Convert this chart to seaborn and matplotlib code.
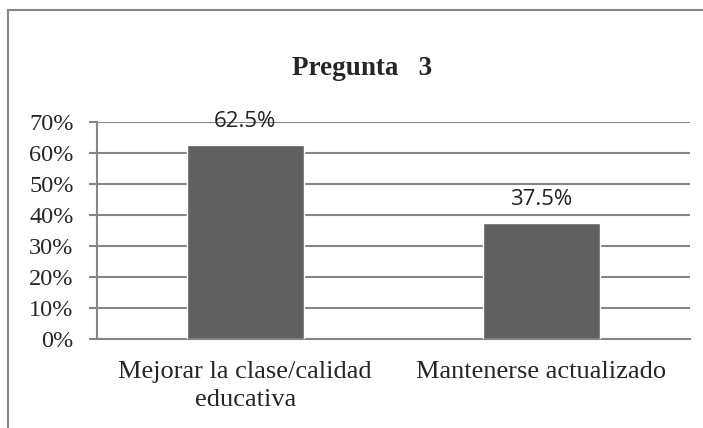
import matplotlib.pyplot as plt
import matplotlib.patches as patches
import pandas as pd
import seaborn as sns

categorias = ["Mejorar la clase/calidad\neducativa", "Mantenerse actualizado"]
valores = [62.5, 37.5]
etiquetas = ["62.5%", "37.5%"]
yticks = [0, 10, 20, 30, 40, 50, 60, 70]

GRIS = "#868686"

df = pd.DataFrame({"categoria": categorias, "valor": valores})

sns.set_style("white")
plt.rcParams["font.family"] = ["Liberation Serif", "DejaVu Serif"]

fig = plt.figure(figsize=(7.03, 4.28), dpi=100)
ax = fig.add_axes([0.138, 0.208, 0.843, 0.507])

sns.barplot(data=df, x="categoria", y="valor", color="#606060", width=0.395,
            saturation=1, ax=ax, zorder=3)

ax.set_xlim(-0.5, 1.5)
ax.set_ylim(0, 70)
ax.set_yticks(yticks)
ax.set_yticklabels([f"{t}%" for t in yticks], fontsize=17.5)
ax.grid(axis="y", color=GRIS, lw=1.5, zorder=0)
ax.set_xlabel("")
ax.set_ylabel("")

ax.tick_params(axis="x", which="major", length=0, pad=16, labelsize=19)
ax.set_xticks([-0.5, 0.5, 1.5], minor=True)
ax.tick_params(axis="x", which="minor", length=5.8, width=1.5, color=GRIS)
ax.tick_params(axis="y", length=5.8, width=1.5, color=GRIS, left=True, pad=11)
for lbl in ax.get_xticklabels():
    lbl.set_linespacing(1.32)

for s in ["top", "right"]:
    ax.spines[s].set_visible(False)
for s in ["left", "bottom"]:
    ax.spines[s].set_color(GRIS)
    ax.spines[s].set_linewidth(1.5)

for i, (v, t) in enumerate(zip(valores, etiquetas)):
    ax.text(i, v + 5.8, t, ha="center", va="baseline", fontsize=16,
            family=["Open Sans", "DejaVu Sans"], color="#222222", zorder=4)

fig.text(362 / 703, 1 - 75 / 428, "Pregunta   3", ha="center", va="baseline",
         fontsize=19.5, fontweight="bold")

marco = patches.Rectangle((8 / 703, -0.1), 1.2, (1 - 10 / 428) + 0.1,
                          transform=fig.transFigure, fill=False,
                          edgecolor=GRIS, lw=1.5)
fig.patches.append(marco)

fig.savefig("out.png", dpi=100)
